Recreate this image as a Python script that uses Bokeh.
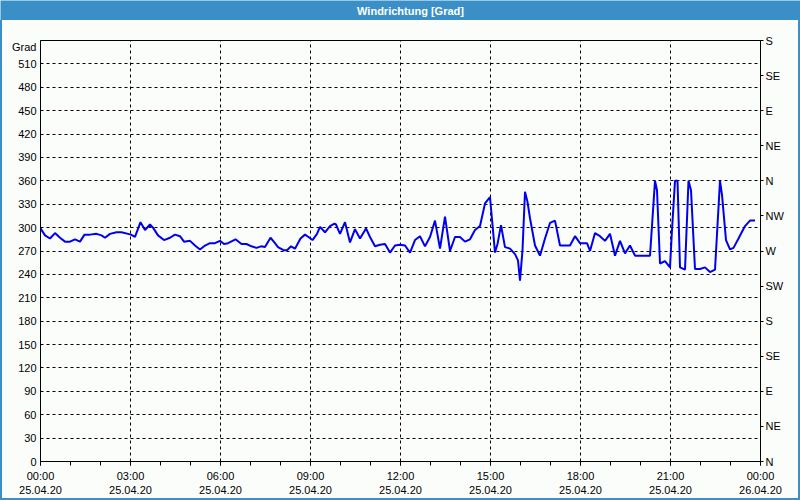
from bokeh.plotting import figure
from bokeh.models import Range1d, LinearAxis, FixedTicker, Label, Spacer
from bokeh.layouts import column, row
from bokeh.embed import file_html
from bokeh.resources import INLINE

# ---------------- data ----------------
title_text = "Windrichtung [Grad]"
y_unit = "Grad"

times = ["00:00", "00:09", "00:19", "00:29", "00:39", "00:49", "00:59", "01:09", "01:19", "01:28",
         "01:39", "01:52", "02:02", "02:09", "02:19", "02:32", "02:42", "02:55", "03:01", "03:09",
         "03:20", "03:29", "03:39", "03:45", "03:55", "04:07", "04:19", "04:29", "04:39", "04:47",
         "04:59", "05:09", "05:19", "05:29", "05:39", "05:49", "05:59", "06:07", "06:15", "06:30",
         "06:42", "06:52", "07:02", "07:12", "07:21", "07:29", "07:40", "07:49", "07:55",
         "08:06", "08:13", "08:21", "08:29", "08:40", "08:49", "08:56", "09:04", "09:13", "09:19",
         "09:29", "09:39", "09:48", "09:51", "09:59", "10:09", "10:19", "10:29", "10:39", "10:51",
         "10:59", "11:09", "11:19", "11:29", "11:39", "11:49", "11:59", "12:09", "12:19", "12:29",
         "12:39", "12:49", "12:59", "13:09", "13:19", "13:29", "13:39", "13:49", "13:59", "14:09",
         "14:19", "14:29", "14:39", "14:49", "14:59", "15:09", "15:14", "15:21", "15:29", "15:39",
         "15:49",
         "15:55", "15:59", "16:04", "16:09", "16:14", "16:19", "16:29", "16:39", "16:49", "16:59",
         "17:09", "17:19", "17:39", "17:49", "17:59", "18:13", "18:19", "18:29", "18:39", "18:49",
         "18:59", "19:09", "19:19", "19:29", "19:39", "19:49", "19:59", "20:19", "20:29", "20:33",
         "20:39", "20:49", "20:59", "21:03", "21:09", "21:14", "21:19", "21:29", "21:36", "21:41",
         "21:49", "21:59", "22:09", "22:19", "22:29", "22:39", "22:43", "22:51", "22:59", "23:06",
         "23:16", "23:29", "23:39", "23:49"]

direction = [299, 290, 286, 293, 287, 282, 282, 285, 282, 291,
             291, 292, 290, 287, 292, 294, 294, 292, 291, 288,
             307, 297, 304, 300, 290, 284, 287, 291, 289, 282,
             283, 277, 272, 277, 280, 280, 283, 279, 280, 285,
             279, 279, 276, 274, 276, 275, 287, 280, 275,
             271, 271, 276, 273, 286, 291, 288, 284, 292, 301,
             294, 302, 305, 304, 292, 307, 281, 298, 286, 299,
             288, 276, 278, 279, 268, 277, 278, 277, 268, 284,
             289, 276, 288, 309, 273, 314, 270, 288, 288, 282,
             285, 297, 302, 331, 339, 268, 279, 303, 275, 273,
             266,
             258, 232, 271, 346, 333, 312, 277, 264, 286, 306,
             309, 277, 277, 289, 280, 280, 270, 293, 289, 283,
             292, 264, 283, 267, 277, 264, 264, 264, 360, 348,
             254, 257, 249, 297, 360, 360, 249, 246, 360, 348,
             247, 247, 249, 243, 246, 360, 342, 284, 272, 274,
             286, 302, 309, 309]

x_tick_hours = [0, 3, 6, 9, 12, 15, 18, 21, 24]
x_tick_labels = ["00:00\n25.04.20", "03:00\n25.04.20", "06:00\n25.04.20", "09:00\n25.04.20",
                 "12:00\n25.04.20", "15:00\n25.04.20", "18:00\n25.04.20", "21:00\n25.04.20",
                 "00:00\n26.04.20"]
left_ticks = list(range(0, 511, 30))
unit_tick = 532
compass_ticks = list(range(0, 541, 45))
compass_labels = ["N", "NE", "E", "SE", "S", "SW", "W", "NW", "N", "NE", "E", "SE", "S"]

# ---------------- style ----------------
BAR = "#3b8fc7"
BG = "#fbfdfb"
FONT = "Liberation Sans"
FS = "11px"

hours = [int(t[:2]) + int(t[3:]) / 60 for t in times]

# title bar
head = figure(width=800, height=20, x_range=Range1d(0, 800), y_range=Range1d(0, 20),
              output_backend="svg", toolbar_location=None, title=None, min_border=0,
              border_fill_color=BAR, background_fill_color=BAR, outline_line_color=None)
head.axis.visible = False
head.grid.visible = False
head.add_layout(Label(x=410, y=10, text=title_text, text_align="center", text_baseline="middle",
                      text_color="white", text_font_style="bold", text_font_size=FS,
                      text_font=FONT))

# main chart
p = figure(width=796, height=478, x_range=Range1d(0, 24), y_range=Range1d(0, 540),
           output_backend="svg", toolbar_location=None, title=None,
           min_border_left=38, min_border_right=38, min_border_top=20, min_border_bottom=36,
           background_fill_color=BG, border_fill_color=BG,
           outline_line_color="black", outline_line_width=1)

p.line(hours, direction, line_color="#0000ee", line_width=2)

# left axis (with the unit name shown at the top)
ya = p.yaxis[0]
ya.ticker = FixedTicker(ticks=left_ticks + [unit_tick])
ya.major_label_overrides = {unit_tick: y_unit}
ya.major_tick_out = 0
ya.major_tick_in = 0
ya.minor_tick_out = 0
ya.minor_tick_in = 0
ya.major_label_standoff = 4
ya.axis_line_color = "black"
ya.major_label_text_font = FONT
ya.major_label_text_font_size = FS
ya.major_label_text_color = "black"

# bottom axis
xa = p.xaxis[0]
xa.ticker = FixedTicker(ticks=x_tick_hours, minor_ticks=list(range(0, 25)))
xa.major_tick_out = 4
xa.major_tick_in = 0
xa.minor_tick_out = 4
xa.minor_tick_in = 0
xa.major_label_standoff = 4
xa.axis_line_color = "black"
xa.major_label_overrides = {h: lab for h, lab in zip(x_tick_hours, x_tick_labels)}
xa.major_label_text_font = FONT
xa.major_label_text_font_size = FS
xa.major_label_text_color = "black"

# right compass axis
ra = LinearAxis(ticker=FixedTicker(ticks=compass_ticks),
                major_label_overrides={t: lab for t, lab in zip(compass_ticks, compass_labels)})
ra.major_tick_out = 3
ra.major_tick_in = 0
ra.minor_tick_out = 0
ra.minor_tick_in = 0
ra.major_label_standoff = 2
ra.axis_line_color = "black"
ra.major_label_text_font = FONT
ra.major_label_text_font_size = FS
ra.major_label_text_color = "black"
p.add_layout(ra, "right")

# grids
p.xgrid.ticker = FixedTicker(ticks=x_tick_hours[1:-1])
p.ygrid.ticker = FixedTicker(ticks=left_ticks[1:])
for g in (p.xgrid[0], p.ygrid[0]):
    g.grid_line_color = "black"
    g.grid_line_dash = "3 3"
    g.grid_line_width = 1

left_edge = Spacer(width=2, height=478, styles={"background-color": BAR})
right_edge = Spacer(width=2, height=478, styles={"background-color": BAR})
bottom_edge = Spacer(width=800, height=2, styles={"background-color": BAR})

layout = column(head, row(left_edge, p, right_edge, spacing=0), bottom_edge, spacing=0)

open("out.html", "w").write(file_html(layout, INLINE))
